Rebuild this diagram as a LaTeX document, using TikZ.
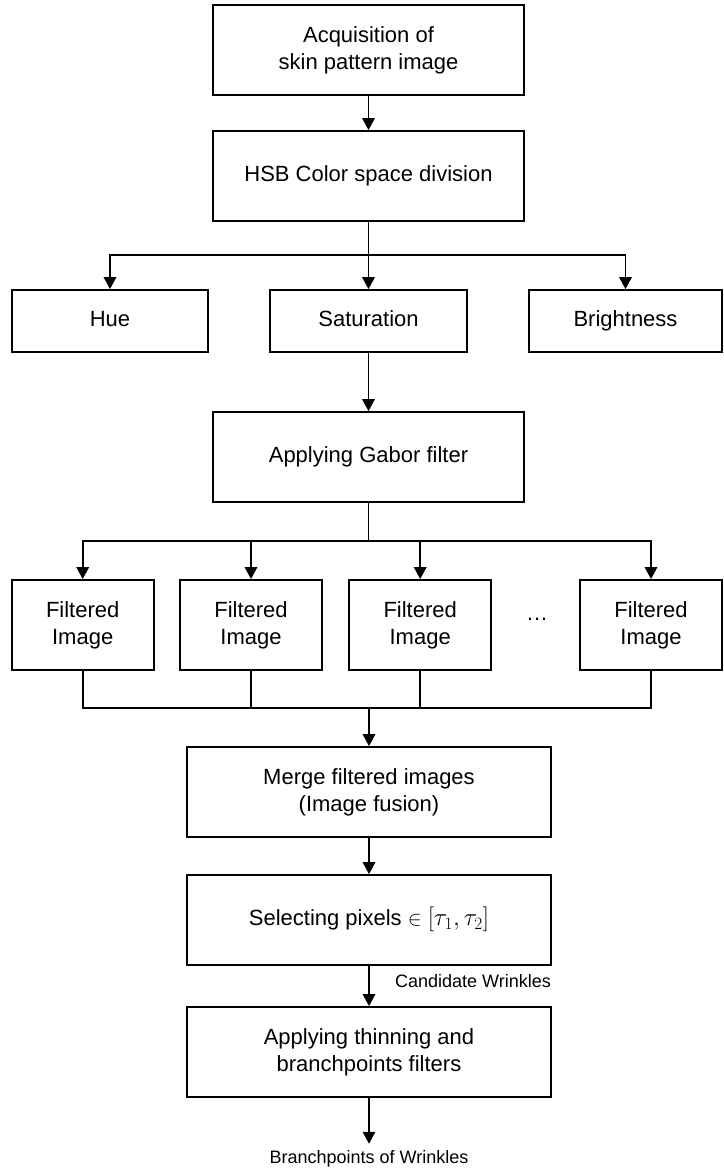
\documentclass[tikz,border=0pt]{standalone}
\usepackage{fontspec}
\setmainfont{Liberation Sans}
\usetikzlibrary{arrows.meta}
\begin{document}
\begin{tikzpicture}[x=1pt,y=-1pt,
  box/.style={draw,line width=1.8pt,inner sep=0pt,align=center,font=\fontsize{22}{27}\selectfont},
  wide/.style={box,minimum width=311pt,minimum height=90pt},
  wider/.style={box,minimum width=364pt,minimum height=90pt},
  chan/.style={box,minimum height=62pt,text height=16pt,text depth=4.5pt},
  filt/.style={box,minimum width=142pt,minimum height=90pt},
  conn/.style={line width=1.8pt},
  arr/.style={conn,-{Triangle[length=12pt,width=12.5pt]}},
  lbl/.style={font=\fontsize{18}{21}\selectfont,inner sep=0pt}]
\useasboundingbox (0,0) rectangle (723,1169);

\node[wide] (b1) at (368.5,50) {Acquisition of\\skin pattern image};
\node[wide,text height=16pt,text depth=4.5pt] (b2) at (368.5,176) {HSB Color space division};
\node[chan,minimum width=196pt] (hue) at (110,321) {Hue};
\node[chan,minimum width=197pt] (sat) at (368.5,321) {Saturation};
\node[chan,minimum width=193pt] (bri) at (625.5,321) {Brightness};
\node[wide] (gab) at (368.5,457) {Applying Gabor filter};
\node[filt] (f1) at (82.7,625) {Filtered\\Image};
\node[filt] (f2) at (251,625) {Filtered\\Image};
\node[filt] (f3) at (420.2,625) {Filtered\\Image};
\node[font=\fontsize{22}{27}\selectfont,inner sep=0pt,anchor=base] (dots) at (537,620) {\ldots};
\node[filt] (f4) at (651,625) {Filtered\\Image};
\node[wider] (mer) at (369,792) {Merge filtered images\\(Image fusion)};
\node[wider,text height=16pt,text depth=4.5pt] (sel) at (369,920) {Selecting pixels $\in$ {\fontsize{26}{27}\selectfont$[\tau_1,\tau_2]$}};
\node[wider] (thn) at (369,1052) {Applying thinning and\\branchpoints filters};
\node[lbl,anchor=base west] (cand) at (395,987) {Candidate Wrinkles};
\node[lbl,anchor=base] (bp) at (369,1163) {Branchpoints of Wrinkles};

\coordinate (j1) at (368.5,255);
\coordinate (j2) at (368.5,541);
\coordinate (j3) at (369,708);

\draw[arr] (b1) -- (b2);
\draw[conn] (b2.south) -- (j1);
\draw[arr] (j1) -| (hue.north);
\draw[arr] (j1) -- (sat.north);
\draw[arr] (j1) -| (bri.north);
\draw[arr] (sat) -- (gab);
\draw[conn] (gab.south) -- (j2);
\draw[arr] (j2) -| (f1.north);
\draw[arr] (j2) -| (f2.north);
\draw[arr] (j2) -| (f3.north);
\draw[arr] (j2) -| (f4.north);
\draw[conn] (f1.south) |- (j3);
\draw[conn] (f2.south) |- (j3);
\draw[conn] (f3.south) |- (j3);
\draw[conn] (f4.south) |- (j3);
\draw[arr] (j3) -- (mer.north);
\draw[arr] (mer) -- (sel);
\draw[arr] (sel) -- (thn);
\draw[arr,shorten >=6pt] (thn.south) -- (bp.north);
\end{tikzpicture}
\end{document}
